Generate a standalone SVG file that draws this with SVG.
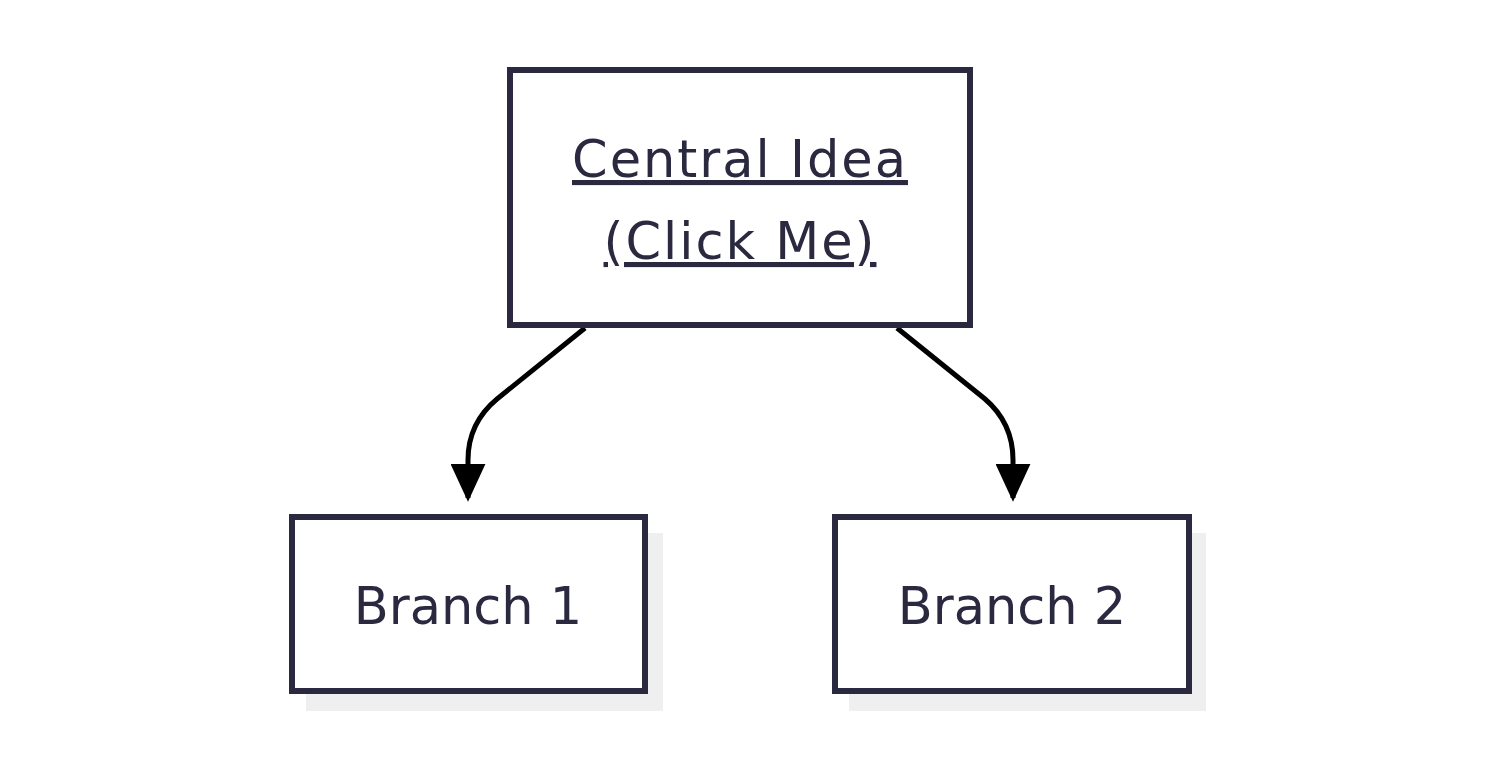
<svg xmlns="http://www.w3.org/2000/svg" width="1505" height="783" viewBox="0 0 1505 783">
<style>
.box{fill:#fff;stroke:#2a2940;stroke-width:6}
.sh{fill:#efefef}
.t{font-family:"DejaVu Sans","Liberation Sans",sans-serif;font-size:51px;fill:#2a2940;text-anchor:middle}
.c{letter-spacing:2px}
.e{fill:none;stroke:#000;stroke-width:5}
</style>
<defs><marker id="a" viewBox="0 0 10 10" refX="9" refY="5" markerWidth="7.6" markerHeight="7" markerUnits="strokeWidth" orient="auto" preserveAspectRatio="none"><path d="M0,0L10,5L0,10z" fill="#000"/></marker></defs>
<rect width="1505" height="783" fill="#fff"/>
<g id="edges">
<path class="e" d="M585,328L497,399Q468,423 468,460L468,498" marker-end="url(#a)"/>
<path class="e" d="M897,328L985,399Q1013,423 1013,460L1013,498" marker-end="url(#a)"/>
</g>
<g id="central">
<rect class="box" x="510" y="70" width="460" height="255"/>
<text class="t c" x="740" y="177" text-decoration="underline">Central Idea</text>
<text class="t c" x="740" y="259" text-decoration="underline">(Click Me)</text>
</g>
<g id="branch1">
<rect class="sh" x="306" y="533" width="357" height="178"/>
<rect class="box" x="292" y="517" width="353" height="174"/>
<text class="t" x="468" y="624">Branch 1</text>
</g>
<g id="branch2">
<rect class="sh" x="849" y="533" width="357" height="178"/>
<rect class="box" x="835" y="517" width="354" height="174"/>
<text class="t" x="1012" y="624">Branch 2</text>
</g>
</svg>
